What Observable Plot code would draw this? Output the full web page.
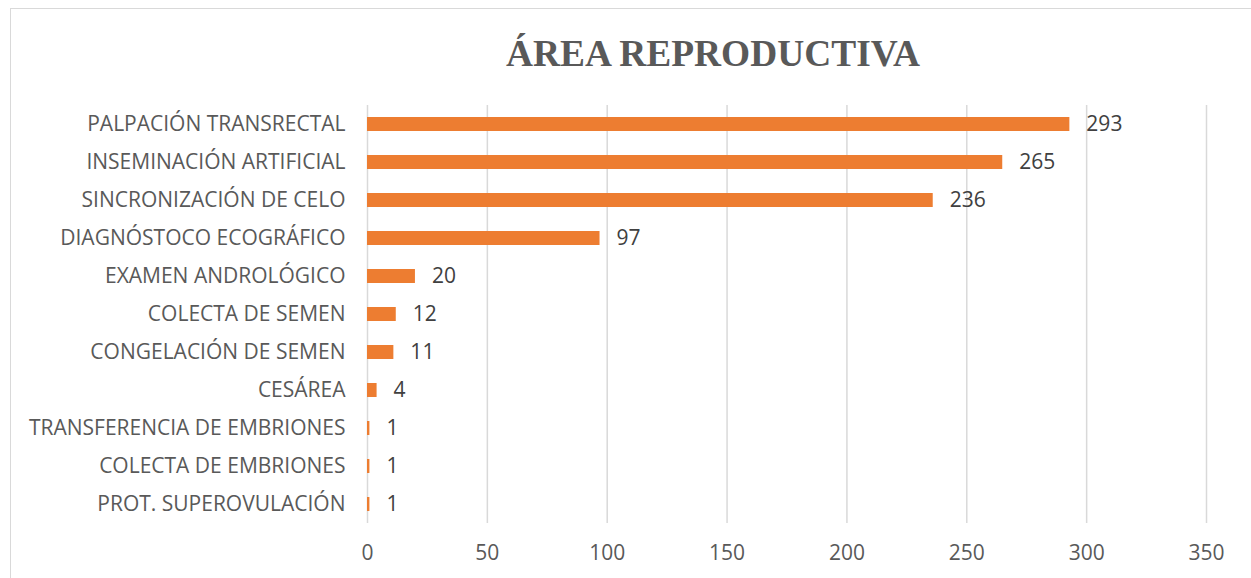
<!DOCTYPE html>
<html>
<head>
<meta charset="utf-8">
<script src="https://cdn.jsdelivr.net/npm/d3@7"></script>
<script src="https://cdn.jsdelivr.net/npm/@observablehq/plot@0.6"></script>
<style>
  html, body { margin: 0; padding: 0; background: #fff; overflow: hidden; }
  #wrap { position: relative; width: 1251px; height: 578px; overflow: hidden; }
  #frame {
    position: absolute; left: 10px; top: 8px; width: 1400px; height: 700px;
    border-left: 1.5px solid #d9d9d9; border-top: 1.5px solid #d9d9d9;
  }
  #title {
    position: absolute; left: 0; top: 35px; width: 1426px; text-align: center;
    font: bold 37.4px/37.4px "Liberation Serif", "Times New Roman", serif;
    color: #595959; white-space: nowrap;
  }
  #head { height: 90px; }
  #chart { position: relative; }
</style>
</head>
<body>
<div id="wrap">
  <div id="frame"></div>
  <div id="head"><div id="title">ÁREA REPRODUCTIVA</div></div>
  <div id="chart"></div>
</div>
<script>
// Procedures in the reproductive area and how many times each was performed
const categories = [
  "PALPACIÓN TRANSRECTAL",
  "INSEMINACIÓN ARTIFICIAL",
  "SINCRONIZACIÓN DE CELO",
  "DIAGNÓSTOCO ECOGRÁFICO",
  "EXAMEN ANDROLÓGICO",
  "COLECTA DE SEMEN",
  "CONGELACIÓN DE SEMEN",
  "CESÁREA",
  "TRANSFERENCIA DE EMBRIONES",
  "COLECTA DE EMBRIONES",
  "PROT. SUPEROVULACIÓN"
];
const counts = [293, 265, 236, 97, 20, 12, 11, 4, 1, 1, 1];
const xTicks = [0, 50, 100, 150, 200, 250, 300, 350];

const rows = categories.map((name, i) => ({name, value: counts[i]}));

const font = '"Open Sans", "Noto Sans", sans-serif';

const chart = Plot.plot({
  width: 1251,
  height: 488,
  marginTop: 15,
  marginBottom: 55,
  marginLeft: 367,
  marginRight: 45,
  style: {fontFamily: font, fontSize: "21px", color: "#595959", background: "transparent"},
  x: {domain: [0, 350], ticks: xTicks},
  y: {domain: categories, paddingInner: 0.64, paddingOuter: 0.32},
  marks: [
    Plot.gridX(xTicks, {stroke: "#d9d9d9", strokeOpacity: 1, strokeWidth: 1.5}),
    Plot.barX(rows, {x: "value", y: "name", fill: "#ED7D31"}),
    Plot.text(rows, {
      x: "value", y: "name", text: d => String(d.value),
      dx: 16.5, textAnchor: "start", fill: "#404040", fontSize: 21
    }),
    Plot.axisX(xTicks, {tickSize: 0, tickPadding: 22, label: null, fill: "#595959", fontSize: 21, tickFormat: d => String(d)}),
    Plot.axisY({tickSize: 0, tickPadding: 22, label: null, fill: "#595959", fontSize: 21})
  ]
});

document.getElementById("chart").appendChild(chart);
</script>
</body>
</html>
